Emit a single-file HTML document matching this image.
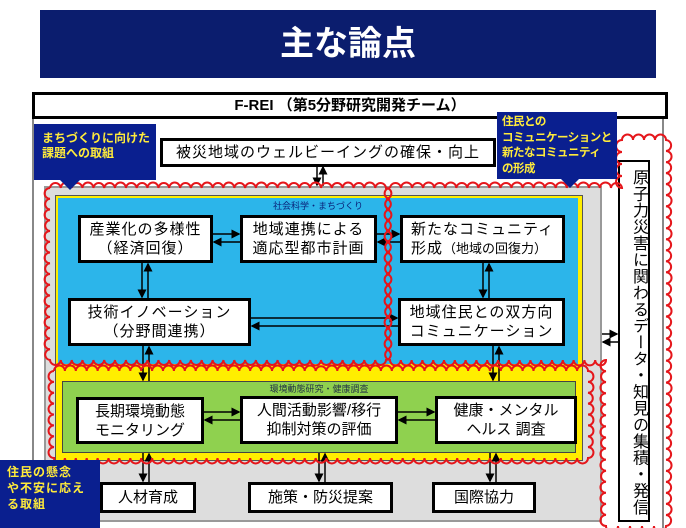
<!DOCTYPE html>
<html><head><meta charset="utf-8"><style>
body{margin:0;width:686px;height:528px;background:#fff;position:relative;overflow:hidden;font-family:"Liberation Sans","Noto Sans CJK JP",sans-serif}
.a{position:absolute;box-sizing:border-box}
.bx{position:absolute;box-sizing:border-box;background:#fff;border:3px solid #000;display:flex;align-items:center;justify-content:center;text-align:center;font-size:15px;line-height:19px;color:#000;letter-spacing:1px}
.nv{position:absolute;background:#0a1f8f;color:#ffeb3b;font-weight:bold;font-size:12px;line-height:15px;box-sizing:border-box;white-space:nowrap}
</style></head><body>
<div class="a" style="left:40px;top:10px;width:616px;height:68px;background:#0b1d6e"></div>
<div class="a" style="left:40px;top:10px;width:616px;height:68px;color:#fff;font-weight:bold;font-size:34px;text-align:center;line-height:68px">主な論点</div>
<div class="a" style="left:32px;top:116px;width:632px;height:412px;border:2px solid #888;border-bottom:none"></div>
<div class="a" style="left:44px;top:186px;width:558px;height:336px;background:#ddd;border:2px solid #999"></div>
<div class="a" style="left:55px;top:195px;width:528px;height:266px;background:#ffee00;border:1px solid #555"></div>
<div class="a" style="left:58px;top:198px;width:520px;height:166px;background:#2cb5ea"></div>
<div class="a" style="left:62px;top:381px;width:514px;height:72px;background:#8fd14f;border:1px solid #444"></div>
<div class="a" style="left:58px;top:199px;width:520px;text-align:center;font-size:9px;color:#0a237a">社会科学・まちづくり</div>
<div class="a" style="left:62px;top:382px;width:514px;text-align:center;font-size:9px;color:#234">環境動態研究・健康調査</div>
<div class="bx" style="left:32px;top:92px;width:636px;height:27px;font-weight:bold;font-size:15px;letter-spacing:0">F-REI （第5分野研究開発チーム）</div>
<div class="bx" style="left:160px;top:138px;width:336px;height:29px">被災地域のウェルビーイングの確保・向上</div>
<div class="bx" style="left:78px;top:215px;width:135px;height:48px">産業化の多様性<br>（経済回復）</div>
<div class="bx" style="left:240px;top:215px;width:137px;height:48px">地域連携による<br>適応型都市計画</div>
<div class="bx" style="left:400px;top:215px;width:165px;height:48px;justify-content:flex-start;text-align:left;padding-left:8px"><div style="white-space:nowrap">新たなコミュニティ<br>形成<span style="font-size:13px;letter-spacing:0">（地域の回復力）</span></div></div>
<div class="bx" style="left:68px;top:298px;width:183px;height:48px">技術イノベーション<br>（分野間連携）</div>
<div class="bx" style="left:398px;top:298px;width:167px;height:48px">地域住民との双方向<br>コミュニケーション</div>
<div class="bx" style="left:76px;top:397px;width:128px;height:47px;letter-spacing:0">長期環境動態<br>モニタリング</div>
<div class="bx" style="left:240px;top:396px;width:158px;height:48px;letter-spacing:0">人間活動影響/移行<br>抑制対策の評価</div>
<div class="bx" style="left:435px;top:396px;width:142px;height:48px;letter-spacing:0">健康・メンタル<br>ヘルス 調査</div>
<div class="bx" style="left:100px;top:482px;width:96px;height:31px;letter-spacing:0">人材育成</div>
<div class="bx" style="left:248px;top:482px;width:145px;height:31px;letter-spacing:0">施策・防災提案</div>
<div class="bx" style="left:432px;top:482px;width:104px;height:31px;letter-spacing:0">国際協力</div>
<div class="bx" style="left:618px;top:160px;width:32px;height:362px;border-width:2px;font-size:16px;line-height:20px;writing-mode:vertical-rl;align-items:flex-start;justify-content:center;letter-spacing:0.5px;padding-top:3px">原子力災害に関わるデータ・知見の集積・発信</div>
<svg class="a" style="left:0;top:0" width="686" height="528">
<defs><marker id="m" markerWidth="6" markerHeight="6" refX="5" refY="3" orient="auto"><path d="M0,0L6,3L0,6z" fill="#000"/></marker></defs>
<g stroke="#000" stroke-width="1.5" marker-end="url(#m)" id="ar"></g>
<g fill="none" stroke="#e5161b" stroke-width="2" id="sc"></g>
<polygon points="60,180 80,180 70,190" fill="#0a1f8f"/>
<polygon points="560,178 580,178 570,188" fill="#0a1f8f"/>
<polygon points="84,472 100,462 100,482" fill="#0a1f8f"/>
</svg>
<div class="nv" style="left:34px;top:124px;width:122px;height:56px;padding:7px 0 0 8px">まちづくりに向けた<br>課題への取組</div>
<div class="nv" style="left:497px;top:112px;width:120px;height:67px;padding:3px 0 0 5px;font-size:11.5px;line-height:15.5px;letter-spacing:-0.5px">住民との<br>コミュニケーションと<br>新たなコミュニティ<br>の形成</div>
<div class="nv" style="left:0;top:460px;width:100px;height:68px;padding:4px 0 0 7px;font-size:12px;line-height:16px;letter-spacing:1px">住民の懸念<br>や不安に応え<br>る取組</div>
<script>
var ar=document.getElementById('ar'),sc=document.getElementById('sc'),ns='http://www.w3.org/2000/svg';
function L(x1,y1,x2,y2){var l=document.createElementNS(ns,'line');l.setAttribute('x1',x1);l.setAttribute('y1',y1);l.setAttribute('x2',x2);l.setAttribute('y2',y2);ar.appendChild(l);}
function V(x,y1,y2){L(x-3,y1,x-3,y2-1);L(x+3,y2,x+3,y1+1);}
function H(y,x1,x2){L(x1,y-4,x2-1,y-4);L(x2,y+4,x1+1,y+4);}
V(320,166,186);V(145,263,298);V(486,263,298);V(146,346,381);V(496,346,381);
V(146,453,482);V(322,453,482);V(493,453,482);
H(238,213,240);H(238,377,400);H(322,251,398);H(416,204,240);H(416,398,435);H(338,602,618);
function scallop(pts){var d='';for(var i=0;i<pts.length;i++){var a=pts[i],b=pts[(i+1)%pts.length];var dx=b[0]-a[0],dy=b[1]-a[1],len=Math.hypot(dx,dy),n=Math.max(1,Math.round(len/11));if(i==0)d+='M'+a[0]+','+a[1];for(var k=1;k<=n;k++){var x=a[0]+dx*k/n,y=a[1]+dy*k/n;d+=' A'+(len/n/2)+','+(len/n/2)+' 0 0 1 '+x.toFixed(1)+','+y.toFixed(1);}}var p=document.createElementNS(ns,'path');p.setAttribute('d',d);sc.appendChild(p);}
scallop([[50,188],[386,188],[386,360],[50,360]]);
scallop([[390,188],[622,188],[622,140],[666,140],[666,526],[606,526],[606,360],[390,360]]);
scallop([[54,371],[588,371],[588,458],[54,458]]);
</script>
</body></html>
